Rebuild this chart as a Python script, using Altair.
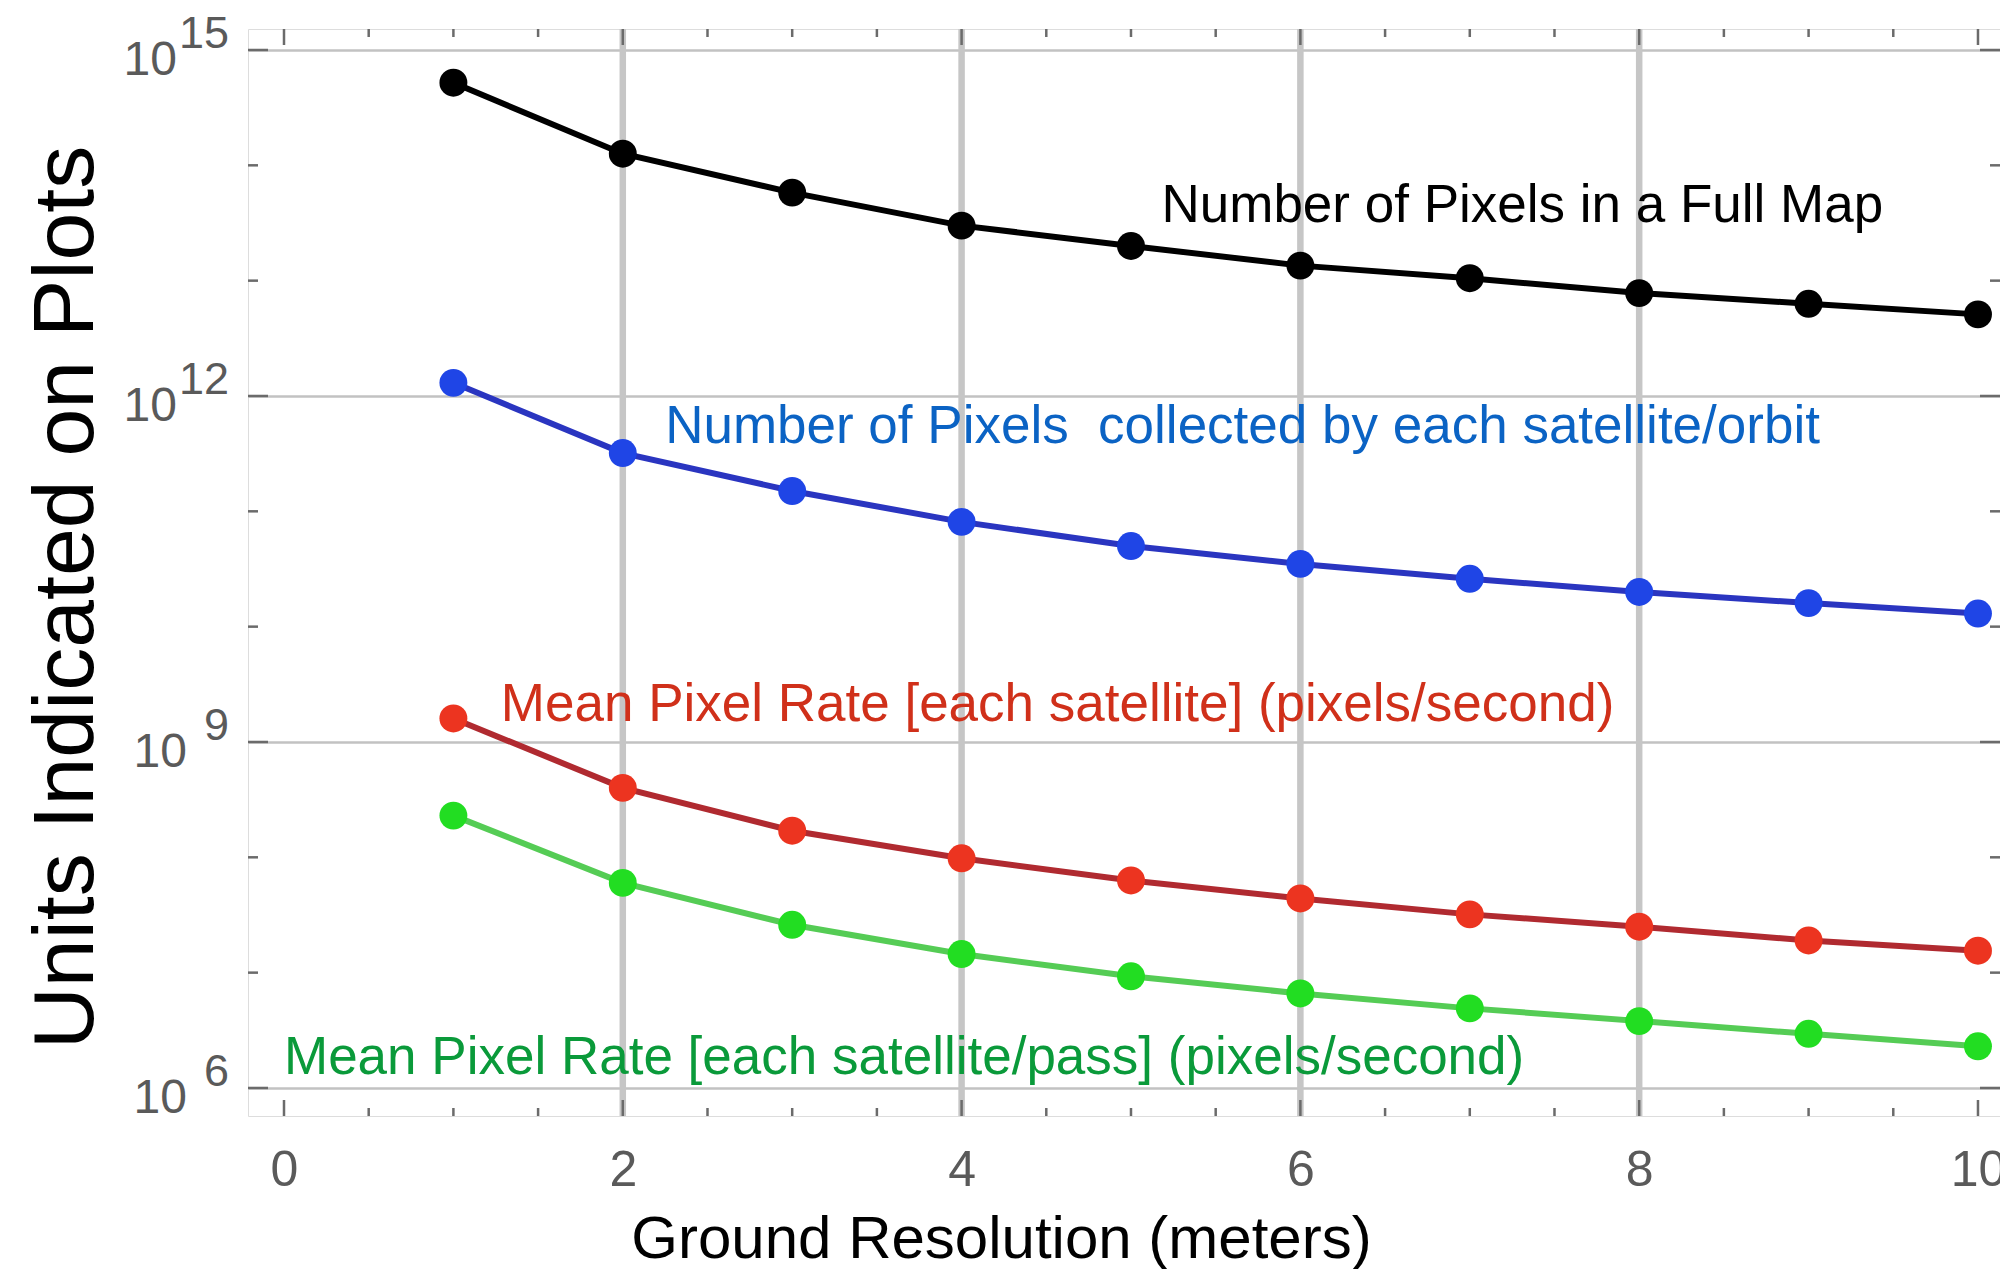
import altair as alt
import pandas as pd

FONT = "Liberation Sans"

# ---- data ----
resolution_m = [1, 2, 3, 4, 5, 6, 7, 8, 9, 10]
pixels_full_map = [5.2e14, 1.26e14, 5.8e13, 3.0e13, 2.0e13, 1.35e13, 1.05e13, 7.8e12, 6.3e12, 5.1e12]
pixels_per_orbit = [1.3e12, 3.2e11, 1.5e11, 8.1e10, 5.0e10, 3.5e10, 2.6e10, 2.0e10, 1.6e10, 1.3e10]
rate_per_satellite = [1.6e9, 4.0e8, 1.7e8, 9.8e7, 6.3e7, 4.4e7, 3.2e7, 2.5e7, 1.9e7, 1.55e7]
rate_per_pass = [2.3e8, 6.0e7, 2.6e7, 1.45e7, 9.3e6, 6.6e6, 4.9e6, 3.8e6, 2.95e6, 2.3e6]

series_names = ["full_map", "orbit", "satellite", "pass"]
series_values = [pixels_full_map, pixels_per_orbit, rate_per_satellite, rate_per_pass]

ann_text = [
    "Number of Pixels in a Full Map",
    "Number of Pixels\u00a0 collected by each satellite/orbit",
    "Mean Pixel Rate [each satellite] (pixels/second)",
    "Mean Pixel Rate [each satellite/pass] (pixels/second)",
]
ann_x = [5.18, 2.25, 1.28, 0.0]
ann_y = [3.24e13, 3.9e11, 1.51e9, 1.32e6]

x_tick_labels = [0, 2, 4, 6, 8, 10]
x_minor_ticks = [0.5, 1, 1.5, 2.5, 3, 3.5, 4.5, 5, 5.5, 6.5, 7, 7.5, 8.5, 9, 9.5]
x_grid = [2, 4, 6, 8]
y_major = [1e6, 1e9, 1e12, 1e15]
y_exponents = ["6", "9", "12", "15"]
y_minor = [1e7, 1e8, 1e10, 1e11, 1e13, 1e14]

# ---- styles ----
line_colors = ["#000000", "#2a35c0", "#b02a30", "#55cc55"]
point_colors = ["#000000", "#1f45e6", "#ec3420", "#22dd22"]
ann_colors = ["#000000", "#0b63c4", "#d0301a", "#0a9a3a"]
FRAME = "#6b6b6b"
LABEL = "#5a5a5a"

rows = []
for name, vals in zip(series_names, series_values):
    for xv, yv in zip(resolution_m, vals):
        rows.append({"series": name, "x": xv, "y": yv})
df = pd.DataFrame(rows)

W, H = 1752, 1087
xscale = alt.Scale(domain=[-0.2125, 10.13], nice=False, zero=False)
yscale = alt.Scale(type="log", domain=[10 ** 5.757, 10 ** 15.182], nice=False)

x_axis = alt.Axis(
    values=x_tick_labels, grid=False, ticks=False, tickSize=0, domain=False,
    labelFontSize=50, labelColor=LABEL, labelFont=FONT, labelPadding=69,
    labelBaseline="alphabetic", labelFlush=False, format="d",
    title="Ground Resolution (meters)", titleFont=FONT, titleFontSize=60,
    titleFontWeight="normal", titleColor="#000000", titleX=753, titleY=141,
    titleAlign="center", titleBaseline="alphabetic",
)
y_axis = alt.Axis(
    values=y_major, grid=True, gridColor="#c2c2c2", gridWidth=2.5,
    ticks=False, tickSize=0, domain=False, labels=False,
    title="Units Indicated on Plots", titleFont=FONT, titleFontSize=86,
    titleFontWeight="normal", titleColor="#000000", titleAngle=270,
    titleX=-156, titleY=568, titleAlign="center", titleBaseline="alphabetic",
)


def X(field="x"):
    return alt.X(f"{field}:Q", scale=xscale, axis=x_axis)


def Y(field="y"):
    return alt.Y(f"{field}:Q", scale=yscale, axis=y_axis)


# vertical grid
vgrid = alt.Chart(pd.DataFrame({"x": x_grid})).mark_rule(
    color="#c6c6c6", strokeWidth=6.5
).encode(x=X(), y=alt.value(0), y2=alt.value(H))


# ticks (inward, on all four sides)
def xticks(vals, length):
    d = pd.DataFrame({"x": vals})
    bot = alt.Chart(d).mark_rule(color=FRAME, strokeWidth=2.5).encode(
        x=X(), y=alt.value(H), y2=alt.value(H - length))
    top = alt.Chart(d).mark_rule(color=FRAME, strokeWidth=2.5).encode(
        x=X(), y=alt.value(0), y2=alt.value(length))
    return [bot, top]


def yticks(vals, length):
    d = pd.DataFrame({"y": vals})
    left = alt.Chart(d).mark_rule(color=FRAME, strokeWidth=2.5).encode(
        y=Y(), x=alt.value(0), x2=alt.value(length))
    right = alt.Chart(d).mark_rule(color=FRAME, strokeWidth=2.5).encode(
        y=Y(), x=alt.value(W), x2=alt.value(W - length))
    return [left, right]


tick_layers = (xticks(x_tick_labels, 16) + xticks(x_minor_ticks, 8)
               + yticks(y_major, 20) + yticks(y_minor, 10))

# y tick labels as 10 + superscript exponent
ylab = pd.DataFrame({"y": y_major, "exp": y_exponents})
base2 = alt.Chart(ylab).transform_filter("length(datum.exp) == 2").mark_text(
    text="10", align="right", baseline="alphabetic", font=FONT, fontSize=48,
    color=LABEL, dy=25).encode(y=Y(), x=alt.value(-71))
base1 = alt.Chart(ylab).transform_filter("length(datum.exp) == 1").mark_text(
    text="10", align="right", baseline="alphabetic", font=FONT, fontSize=48,
    color=LABEL, dy=25).encode(y=Y(), x=alt.value(-61))
expo = alt.Chart(ylab).mark_text(
    align="right", baseline="alphabetic", font=FONT, fontSize=45,
    color=LABEL, dy=-2).encode(y=Y(), x=alt.value(-19), text="exp:N")

# series
lines = alt.Chart(df).mark_line(strokeWidth=6).encode(
    x=X(), y=Y(),
    stroke=alt.Stroke("series:N", scale=alt.Scale(domain=series_names, range=line_colors), legend=None),
    detail="series:N",
)
points = alt.Chart(df).mark_point(filled=True, opacity=1, shape="circle", size=780).encode(
    x=X(), y=Y(),
    fill=alt.Fill("series:N", scale=alt.Scale(domain=series_names, range=point_colors), legend=None),
)

ann_layers = []
for t, xa, ya, c in zip(ann_text, ann_x, ann_y, ann_colors):
    d = pd.DataFrame({"x": [xa], "y": [ya], "t": [t]})
    ann_layers.append(
        alt.Chart(d).mark_text(align="left", baseline="alphabetic", font=FONT,
                               fontSize=53, color=c).encode(x=X(), y=Y(), text="t:N")
    )

chart = alt.layer(
    vgrid, *tick_layers, lines, points, base2, base1, expo, *ann_layers
).properties(
    width=W, height=H,
    autosize=alt.AutoSizeParams(type="none"),
    padding={"left": 240, "top": 21, "right": 0, "bottom": 153},
).configure_view(
    stroke=FRAME, strokeWidth=3
).configure(background="white")

chart.save("out.html", embed_options={"renderer": "svg", "actions": False})
